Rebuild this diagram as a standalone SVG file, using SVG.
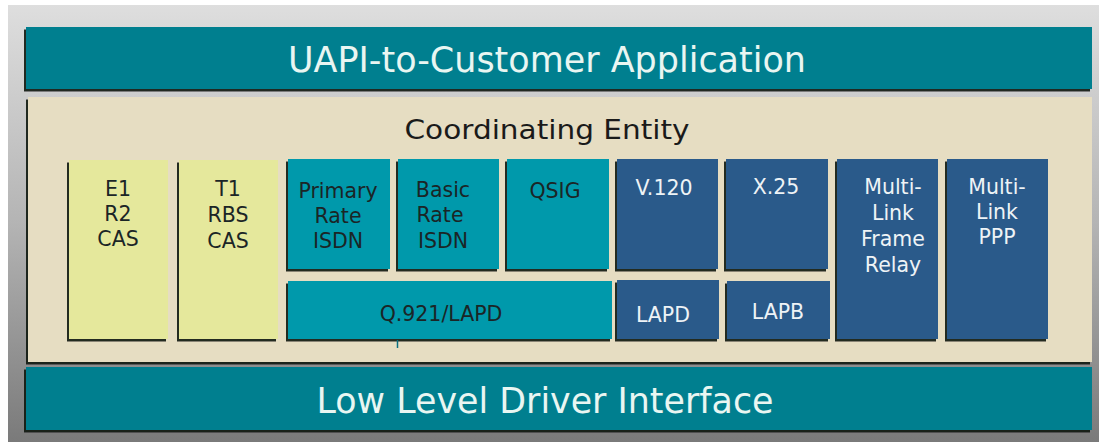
<svg xmlns="http://www.w3.org/2000/svg" width="1099" height="442" viewBox="0 0 1099 442">
<defs>
<linearGradient id="bg" x1="0" y1="0" x2="0" y2="1">
<stop offset="0" stop-color="#dedede"/>
<stop offset="0.5" stop-color="#b4b4b4"/>
<stop offset="1" stop-color="#7a7a7a"/>
</linearGradient>
<filter id="sh" x="-10%" y="-10%" width="120%" height="120%">
<feDropShadow dx="-2" dy="2.5" stdDeviation="0.6" flood-color="#101810" flood-opacity="0.9"/>
</filter>
</defs>
<style>
.bar{fill:#007f8f;filter:url(#sh)}
.panel{fill:#e6ddc2;filter:url(#sh)}
.y{fill:#e5e89c;filter:url(#sh)}
.t{fill:#0599ab;filter:url(#sh)}
.b{fill:#2b5a8a;filter:url(#sh)}
text{font-family:"DejaVu Sans",Verdana,sans-serif;text-anchor:middle}
.big{font-size:36px;fill:#e9f6f2}
.bx{font-size:20.5px;fill:#1b2526}
.bw{font-size:20.5px;fill:#eef3f6}
</style>
<rect x="8" y="5" width="1091" height="437" fill="url(#bg)"/>
<g id="top"><rect class="bar" x="26" y="27" width="1066" height="62"/><text class="big" x="547" y="72" textLength="518" lengthAdjust="spacingAndGlyphs">UAPI-to-Customer Application</text></g>
<g id="coord"><rect class="panel" x="28" y="97" width="1064" height="265"/><text x="547" y="139" font-size="27" fill="#1a1a1a" textLength="285" lengthAdjust="spacingAndGlyphs">Coordinating Entity</text></g>
<g id="bottom"><rect class="bar" x="26" y="367" width="1066" height="63"/><text class="big" x="545" y="413" font-family="DejaVu Sans Condensed, DejaVu Sans, sans-serif" textLength="457" lengthAdjust="spacingAndGlyphs">Low Level Driver Interface</text></g>
<g id="e1"><rect class="y" x="69" y="160" width="99" height="179"/><text class="bx" x="118" y="196">E1</text><text class="bx" x="118" y="221">R2</text><text class="bx" x="118" y="246">CAS</text></g>
<g id="t1"><rect class="y" x="179" y="160" width="99" height="179"/><text class="bx" x="228" y="196">T1</text><text class="bx" x="228" y="222">RBS</text><text class="bx" x="228" y="248">CAS</text></g>
<g id="pri"><rect class="t" x="288" y="159" width="102" height="110"/><text class="bx" x="338" y="198">Primary</text><text class="bx" x="338" y="223">Rate</text><text class="bx" x="338" y="248">ISDN</text></g>
<g id="bri"><rect class="t" x="398" y="159" width="101" height="110"/><text class="bx" x="443" y="197">Basic</text><text class="bx" x="440" y="222">Rate</text><text class="bx" x="443" y="248">ISDN</text></g>
<g id="qsig"><rect class="t" x="507" y="159" width="102" height="110"/><text class="bx" x="555" y="198">QSIG</text></g>
<g id="q921"><rect class="t" x="288" y="281" width="324" height="58"/><text class="bx" x="441" y="321">Q.921/LAPD</text></g>
<g id="v120"><rect class="b" x="617" y="159" width="101" height="110"/><text class="bw" x="664" y="195">V.120</text></g>
<g id="x25"><rect class="b" x="726" y="159" width="102" height="110"/><text class="bw" x="776" y="194">X.25</text></g>
<g id="lapd"><rect class="b" x="617" y="280" width="102" height="59"/><text class="bw" x="663" y="322">LAPD</text></g>
<g id="lapb"><rect class="b" x="727" y="281" width="103" height="58"/><text class="bw" x="778" y="319">LAPB</text></g>
<g id="mlfr"><rect class="b" x="837" y="159" width="101" height="180"/><text class="bw" x="893" y="194">Multi-</text><text class="bw" x="893" y="220">Link</text><text class="bw" x="893" y="246">Frame</text><text class="bw" x="893" y="272">Relay</text></g>
<g id="mlppp"><rect class="b" x="947" y="159" width="101" height="180"/><text class="bw" x="997" y="194">Multi-</text><text class="bw" x="997" y="219">Link</text><text class="bw" x="997" y="244">PPP</text></g>
<g id="connectors"><line x1="397.5" y1="340" x2="397.5" y2="348" stroke="#0a6f80" stroke-width="1.5"/></g>
</svg>
